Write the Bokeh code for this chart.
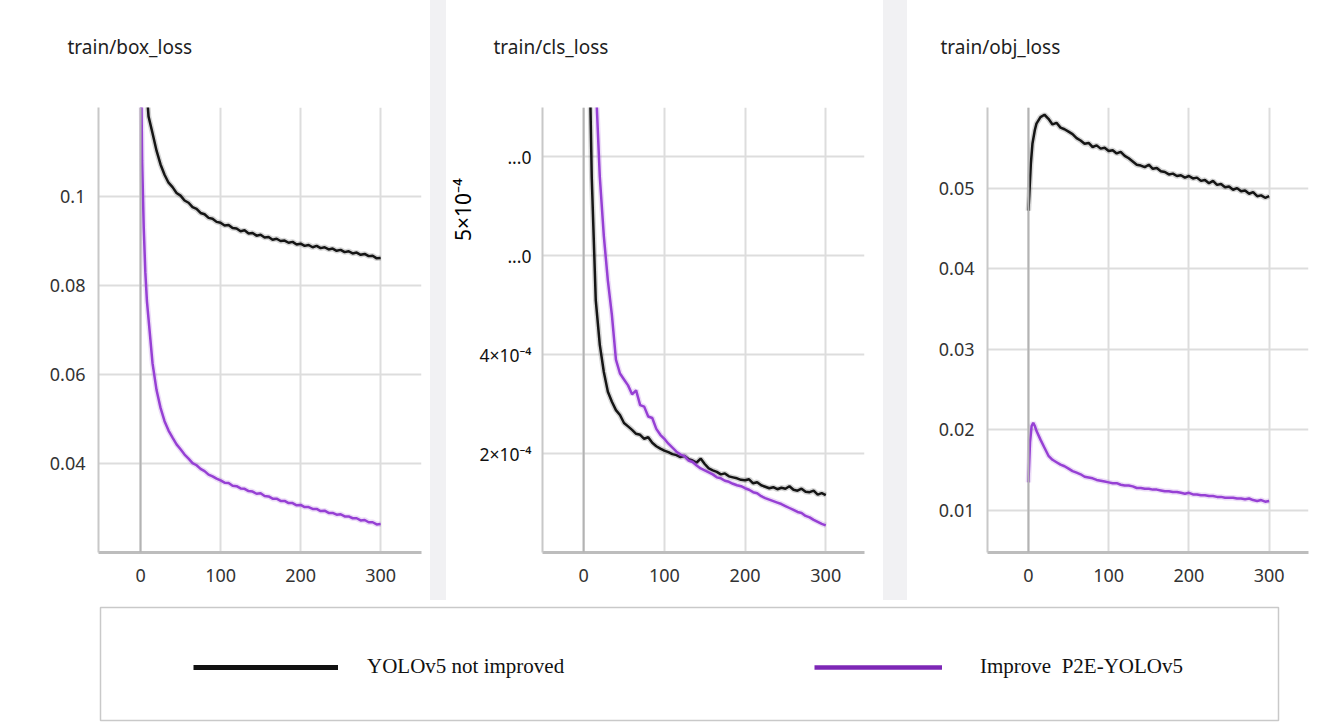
import math
from bokeh.plotting import figure
from bokeh.models import (Range1d, FixedTicker, Span, Title, Legend, LegendItem, Spacer,
                          ColumnDataSource)
from bokeh.layouts import row, column
from bokeh.embed import file_html
from bokeh.resources import INLINE

# ---------------- data ----------------
box_epochs = [0, 2, 4, 6, 8] + list(range(10, 301, 5))
box_yolov5 = [0.300, 0.200, 0.160, 0.135, 0.123, 0.1180, 0.1142, 0.1103, 0.1072, 0.1049,
              0.1031, 0.1021, 0.1008, 0.1002, 0.0991, 0.0986, 0.0976, 0.0972, 0.0963, 0.0960,
              0.0952, 0.0950, 0.0943, 0.0941, 0.0935, 0.0936, 0.0929, 0.0928, 0.0922, 0.0924,
              0.0917, 0.0918, 0.0912, 0.0914, 0.0908, 0.0909, 0.0903, 0.0905, 0.0900, 0.0901,
              0.0896, 0.0898, 0.0892, 0.0894, 0.0889, 0.0891, 0.0886, 0.0889, 0.0884, 0.0886,
              0.0881, 0.0883, 0.0878, 0.0880, 0.0875, 0.0877, 0.0872, 0.0874, 0.0869, 0.0871,
              0.0866, 0.0867, 0.0861, 0.0862]
box_p2e = [0.140, 0.108, 0.093, 0.083, 0.0765, 0.0725, 0.0625, 0.0565, 0.0525, 0.0495,
           0.0474, 0.0458, 0.0443, 0.0432, 0.0420, 0.0411, 0.0401, 0.0396, 0.0388, 0.0383,
           0.0375, 0.0371, 0.0366, 0.0362, 0.0357, 0.0356, 0.0350, 0.0349, 0.0344, 0.0343,
           0.0338, 0.0337, 0.0332, 0.0333, 0.0327, 0.0326, 0.0321, 0.0321, 0.0316, 0.0316,
           0.0311, 0.0311, 0.0306, 0.0307, 0.0302, 0.0302, 0.0298, 0.0298, 0.0293, 0.0294,
           0.0289, 0.0289, 0.0285, 0.0286, 0.0281, 0.0281, 0.0277, 0.0277, 0.0272, 0.0273,
           0.0268, 0.0268, 0.0263, 0.0264]

cls_epochs = [0, 2, 4, 6, 8] + list(range(10, 301, 5))
cls_yolov5 = [30e-4, 20e-4, 14e-4, 11e-4, 9.4e-4, 7.6e-4, 5.1e-4, 4.2e-4, 3.65e-4, 3.25e-4,
              3.05e-4, 2.88e-4, 2.78e-4, 2.62e-4, 2.55e-4, 2.48e-4, 2.40e-4, 2.38e-4, 2.30e-4, 2.33e-4,
              2.22e-4, 2.15e-4, 2.10e-4, 2.06e-4, 2.03e-4, 1.99e-4, 1.97e-4, 1.93e-4, 1.95e-4, 1.89e-4,
              1.86e-4, 1.82e-4, 1.90e-4, 1.79e-4, 1.70e-4, 1.66e-4, 1.63e-4, 1.58e-4, 1.60e-4, 1.54e-4,
              1.52e-4, 1.50e-4, 1.47e-4, 1.46e-4, 1.48e-4, 1.40e-4, 1.42e-4, 1.36e-4, 1.33e-4, 1.30e-4,
              1.32e-4, 1.28e-4, 1.31e-4, 1.29e-4, 1.34e-4, 1.27e-4, 1.25e-4, 1.29e-4, 1.23e-4, 1.22e-4,
              1.25e-4, 1.17e-4, 1.20e-4, 1.16e-4]
cls_p2e = [40e-4, 30e-4, 22e-4, 17e-4, 14e-4, 12e-4, 9.5e-4, 7.6e-4, 6.4e-4, 5.5e-4,
           4.8e-4, 3.9e-4, 3.62e-4, 3.50e-4, 3.38e-4, 3.20e-4, 3.28e-4, 2.98e-4, 2.95e-4, 2.75e-4,
           2.72e-4, 2.50e-4, 2.38e-4, 2.30e-4, 2.20e-4, 2.12e-4, 2.04e-4, 1.98e-4, 1.95e-4, 1.86e-4,
           1.83e-4, 1.76e-4, 1.70e-4, 1.66e-4, 1.62e-4, 1.58e-4, 1.52e-4, 1.50e-4, 1.45e-4, 1.43e-4,
           1.39e-4, 1.36e-4, 1.34e-4, 1.30e-4, 1.27e-4, 1.22e-4, 1.20e-4, 1.14e-4, 1.10e-4, 1.07e-4,
           1.04e-4, 1.01e-4, 0.98e-4, 0.94e-4, 0.90e-4, 0.86e-4, 0.82e-4, 0.80e-4, 0.74e-4, 0.71e-4,
           0.66e-4, 0.62e-4, 0.58e-4, 0.55e-4]

obj_epochs_yolov5 = [0, 1, 3, 5, 8, 10, 15, 20] + list(range(25, 301, 5))
obj_yolov5 = [0.0472, 0.0490, 0.0530, 0.0555, 0.0572, 0.0580, 0.0588, 0.0591,
              0.0586, 0.0579, 0.0581, 0.0575, 0.0573, 0.0570, 0.0567, 0.0562, 0.0559, 0.0555,
              0.0556, 0.0551, 0.0553, 0.0549, 0.0550, 0.0546, 0.0547, 0.0543, 0.0545, 0.0540,
              0.0537, 0.0533, 0.0529, 0.0528, 0.0526, 0.0529, 0.0524, 0.0525, 0.0521, 0.0520,
              0.0517, 0.0518, 0.0515, 0.0516, 0.0513, 0.0515, 0.0512, 0.0513, 0.0509, 0.0510,
              0.0506, 0.0509, 0.0504, 0.0505, 0.0501, 0.0502, 0.0498, 0.0500, 0.0496, 0.0497,
              0.0493, 0.0495, 0.0490, 0.0491, 0.0488, 0.0490]
obj_epochs_p2e = [0, 2, 4, 6, 8, 10, 15, 20] + list(range(25, 301, 5))
obj_p2e = [0.0135, 0.0185, 0.0205, 0.0209, 0.0205, 0.0199, 0.0188, 0.0178,
           0.0168, 0.0163, 0.0160, 0.0157, 0.0155, 0.0152, 0.0149, 0.0147, 0.0145, 0.0142,
           0.0141, 0.0140, 0.0138, 0.0137, 0.0136, 0.0135, 0.0134, 0.0134, 0.0132, 0.0131,
           0.0131, 0.0130, 0.0128, 0.0128, 0.0127, 0.0127, 0.0126, 0.0126, 0.0125, 0.0124,
           0.0124, 0.0123, 0.0123, 0.0122, 0.0121, 0.0122, 0.0120, 0.0120, 0.0119, 0.0119,
           0.0118, 0.0118, 0.0117, 0.0117, 0.0116, 0.0116, 0.0116, 0.0115, 0.0115, 0.0114,
           0.0115, 0.0113, 0.0112, 0.0113, 0.0111, 0.0112]

x_ticks = [0, 100, 200, 300]
box_ticks = [0.04, 0.06, 0.08, 0.1, 0.12]
box_tick_labels = {0.04: "0.04", 0.06: "0.06", 0.08: "0.08", 0.1: "0.1", 0.12: ""}
cls_ticks = [0.0002, 0.0004, 0.0006, 0.0008]
cls_tick_labels = {0.0002: "2×10⁻⁴", 0.0004: "4×10⁻⁴", 0.0006: "...0", 0.0008: "...0"}
cls_side_label = "5×10⁻⁴"
obj_ticks = [0.01, 0.02, 0.03, 0.04, 0.05, 0.06]
obj_tick_labels = {0.01: "0.01", 0.02: "0.02", 0.03: "0.03", 0.04: "0.04", 0.05: "0.05", 0.06: ""}

series_names = ["YOLOv5 not improved", "Improve  P2E-YOLOv5"]

BLACK = "#151515"
PURPLE = "#9640d4"
PURPLE_LEG = "#7d27b6"
FONT = "Noto Sans"


def panel(title, width, xr, yr, yticks, ylabels, mb, title_offset, label_size="18px",
          label_color="#333333", label_standoff=7):
    p = figure(width=width, height=600, x_range=Range1d(*xr), y_range=Range1d(*yr),
               toolbar_location=None, output_backend="svg", title=None,
               min_border_left=mb[0], min_border_right=mb[1],
               min_border_top=mb[2], min_border_bottom=mb[3],
               background_fill_color="white", border_fill_color="white",
               outline_line_color=None)
    # spacer title (closest to the frame) then the visible title above it
    p.add_layout(Title(text=" ", text_font_size="1px", standoff=45), "above")
    p.add_layout(Title(text=title, text_font=FONT, text_font_size="19px",
                       text_font_style="normal", text_color="#1e1e1e",
                       align="left", offset=title_offset, standoff=0), "above")
    p.xaxis.ticker = FixedTicker(ticks=x_ticks)
    p.yaxis.ticker = FixedTicker(ticks=yticks)
    p.yaxis.major_label_overrides = ylabels
    for ax in p.axis:
        ax.major_tick_line_color = None
        ax.minor_tick_line_color = None
        ax.major_label_text_font = FONT
    p.xaxis.major_label_text_font_size = "18px"
    p.xaxis.major_label_text_color = "#333333"
    p.yaxis.major_label_text_font_size = label_size
    p.yaxis.major_label_text_color = label_color
    p.xaxis.axis_line_color = "#bdbdbd"
    p.xaxis.axis_line_width = 3
    p.yaxis.axis_line_color = "#c8c8c8"
    p.yaxis.axis_line_width = 2
    p.xaxis.major_label_standoff = 10
    p.yaxis.major_label_standoff = label_standoff
    p.grid.grid_line_color = "#dddddd"
    p.grid.grid_line_width = 2
    p.add_layout(Span(location=0, dimension="height", line_color="#b3b3b3", line_width=2))
    return p


def draw(p, xs, ys, color):
    p.line(xs, ys, line_color=color, line_width=5.5, line_alpha=0.18)
    p.line(xs, ys, line_color=color, line_width=2.5)


p1 = panel("train/box_loss", 430, (-52.5, 351), (0.02, 0.12), box_ticks, box_tick_labels,
           (98, 9, 106, 47), -31)
draw(p1, box_epochs, box_yolov5, BLACK)
draw(p1, box_epochs, box_p2e, PURPLE)

p2 = panel("train/cls_loss", 437, (-51, 348), (0.0, 9e-4), cls_ticks, cls_tick_labels,
           (96, 19, 106, 48), -49, label_size="17.5px", label_color="#111111", label_standoff=5)
draw(p2, cls_epochs, cls_yolov5, BLACK)
draw(p2, cls_epochs, cls_p2e, PURPLE)
p2.add_layout(Title(text=cls_side_label, align="right", offset=71, standoff=0,
                    text_font=FONT, text_font_size="21px", text_font_style="normal",
                    text_color="#000000"), "left")

p3 = panel("train/obj_loss", 425, (-51, 349), (0.0048, 0.06), obj_ticks, obj_tick_labels,
           (80, 24, 107, 47), -47)
draw(p3, obj_epochs_yolov5, obj_yolov5, BLACK)
draw(p3, obj_epochs_p2e, obj_p2e, PURPLE)

gap1 = Spacer(width=16, height=600, styles={"background-color": "#f1f1f3"})
gap2 = Spacer(width=24, height=600, styles={"background-color": "#f1f1f3"})

leg = figure(width=1332, height=127, x_range=Range1d(0, 1), y_range=Range1d(0, 1),
             toolbar_location=None, output_backend="svg",
             min_border_left=100, min_border_right=54, min_border_top=7, min_border_bottom=7,
             x_axis_location=None, y_axis_location=None,
             outline_line_color="#c9c9c9", outline_line_width=1.5,
             background_fill_color="white", border_fill_color="white")
leg.grid.visible = False
dummy = ColumnDataSource(data=dict(x=[float("nan")], y=[float("nan")]))
r1 = leg.line(x="x", y="y", source=dummy, line_color="#111111", line_width=5)
r2 = leg.line(x="x", y="y", source=dummy, line_color=PURPLE_LEG, line_width=4.5)

for renderer, name, loc, gw, so in [(r1, series_names[0], (93, 41), 145, 29),
                                    (r2, series_names[1], (714, 41), 128, 38)]:
    lg = Legend(items=[LegendItem(label=name, renderers=[renderer])], location=loc,
                glyph_width=gw, glyph_height=24, label_height=24, label_standoff=so,
                padding=0, margin=0, spacing=0, border_line_color=None,
                background_fill_alpha=0, label_text_font="Liberation Serif",
                label_text_font_size="21px", label_text_color="#111111")
    leg.add_layout(lg)

layout = column(row(p1, gap1, p2, gap2, p3), leg)

open("out.html", "w").write(file_html(layout, INLINE))
